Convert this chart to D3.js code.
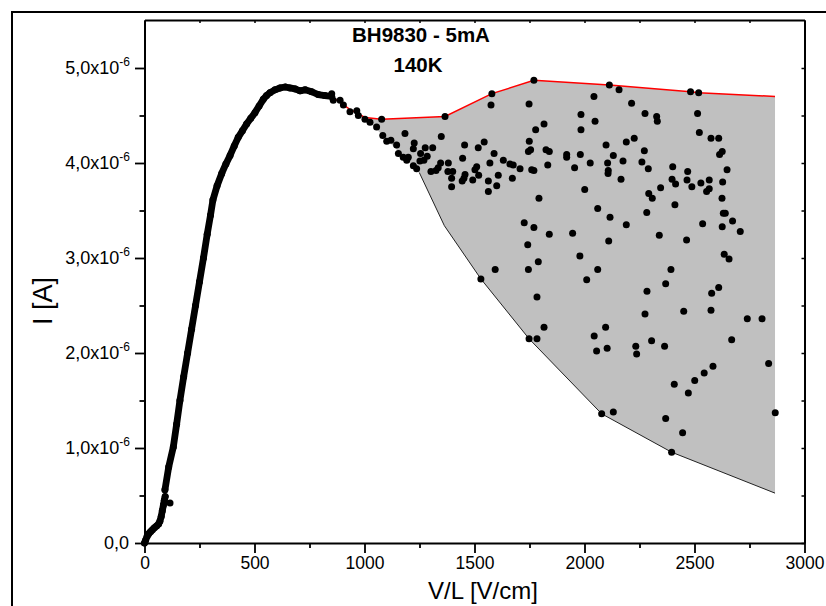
<!DOCTYPE html>
<html><head><meta charset="utf-8">
<script src="https://cdn.jsdelivr.net/npm/d3@7"></script>
<style>body{margin:0;background:#fff}svg{display:block;font-family:"Liberation Sans",Arial,sans-serif}</style>
</head><body><svg id="c" width="826" height="606"></svg>
<script>
// ---- data (I in units of 1e-6 A) ----
const xTicks = [0, 500, 1000, 1500, 2000, 2500, 3000];
const xMinor = [250, 750, 1250, 1750, 2250, 2750];
const yTicks = [0, 1, 2, 3, 4, 5];
const yMinor = [0.5, 1.5, 2.5, 3.5, 4.5];
const yTickLabels = ["0,0", "1,0x10", "2,0x10", "3,0x10", "4,0x10", "5,0x10"];
const titleLines = ["BH9830 - 5mA", "140K"];
const xTitle = "V/L [V/cm]";
const yTitle = "I [A]";

// dense part of the I-V curve
const curveV = [0,5,12,20,28,36,45,55,64,70,76,81,86,90,94,
  93,110,131,146,161,178,196,214,232,250,268,285,300,311,330,351,370,389,408,426,445,464,483,502,521,540,555,570,593,616,640,661,685,707,730,760,790,820,851];
const curveI = [0,0.03,0.07,0.10,0.12,0.14,0.16,0.18,0.20,0.23,0.28,0.34,0.40,0.45,0.49,
  0.56,0.80,1.01,1.25,1.50,1.75,2.00,2.25,2.50,2.75,3.00,3.25,3.45,3.61,3.76,3.89,3.99,4.08,4.18,4.27,4.34,4.41,4.47,4.53,4.60,4.67,4.71,4.74,4.77,4.79,4.80,4.79,4.78,4.76,4.77,4.75,4.72,4.71,4.70];

// scattered points [V/cm, I]
const scatterPts = [[116,0.42],
[851,4.73],[858,4.66],[889,4.66],[904,4.61],[934,4.54],[965,4.55],[972,4.50],[1002,4.46],[1025,4.43],[1055,4.38],[1078,4.46],
[1083,4.29],[1101,4.23],[1120,4.24],[1146,4.19],[1184,4.31],[1154,4.10],[1176,4.06],[1192,4.03],[1199,4.06],[1222,4.15],[1226,4.21],[1222,3.97],[1237,3.94],[1255,4.10],[1285,4.07],[1270,4.03],[1252,4.02],[1310,4.16],[1276,4.16],[1349,4.28],[1346,4.00],[1335,3.95],[1325,3.92],[1302,3.91],[1366,4.49],[1381,4.00],[1379,3.91],[1401,3.91],[1396,3.84],[1396,3.75],[1444,3.81],[1457,3.88],[1452,3.84],[1446,4.05],[1455,4.19],[1492,3.82],[1510,3.96],[1502,3.93],[1519,3.87],[1517,4.16],[1544,4.22],[1563,3.81],[1563,3.70],[1570,4.00],[1589,4.10],[1579,4.73],[1575,4.61],[1601,3.76],[1608,3.87],[1631,4.03],[1661,3.99],[1676,3.98],[1672,3.84],[1707,3.94],[1748,4.62],[1770,4.87],[1778,4.35],[1816,4.41],[1749,4.23],[1745,4.12],[1755,4.14],[1825,4.14],[1840,4.12],[1833,3.98],[1760,3.93],[1770,3.92],[1793,3.63],[1726,3.37],[1770,3.32],[1840,3.25],[1742,3.14],[1790,2.96],[1745,2.88],[1594,2.88],[1529,2.78],[1784,2.59],[1748,2.15],[1784,2.15],[1816,2.27],
[1919,4.09],[1919,4.06],[1981,4.09],[1955,3.95],[2026,4.00],[2001,3.72],[1946,3.26],[1979,3.02],[2010,2.77],[1984,4.51],[2048,4.44],[1984,4.35],[2043,4.70],[2113,4.82],[2157,4.77],[2214,4.63],[2098,4.19],[2131,4.08],[2105,4.00],[2108,3.92],[2107,3.89],[2166,3.83],[2190,4.22],[2226,4.26],[2175,4.02],[2060,3.52],[2116,3.43],[2190,3.35],[2110,3.18],[2060,2.88],[2275,4.52],[2328,4.49],[2331,4.44],[2514,4.52],[2522,4.32],[2575,4.26],[2610,4.26],[2626,4.12],[2614,4.09],[2648,3.93],[2628,3.80],[2625,3.63],[2261,4.01],[2290,3.94],[2272,4.13],[2292,3.68],[2308,3.63],[2346,3.74],[2401,3.96],[2398,3.83],[2414,3.78],[2469,3.91],[2466,3.82],[2488,3.75],[2529,3.79],[2567,3.82],[2567,3.73],[2555,3.70],[2482,4.75],[2519,4.74],[2411,3.56],[2283,3.48],[2340,3.24],[2464,3.19],[2537,3.36],[2626,3.33],[2640,3.47],[2631,3.47],[2673,3.39],[2708,3.28],[2635,3.04],[2657,2.99],[2393,2.88],[2369,2.73],[2284,2.65],[2578,2.63],[2610,2.69],[2275,2.41],[2451,2.44],[2575,2.45],[2740,2.36],[2807,2.36],[2096,2.27],[2044,2.18],[2055,2.02],[2103,2.05],[2233,2.07],[2237,1.99],[2305,2.13],[2364,2.07],[2669,2.14],[2837,1.89],[2584,1.86],[2544,1.79],[2501,1.71],[2408,1.67],[2472,1.58],[2078,1.36],[2131,1.38],[2369,1.31],[2446,1.16],[2396,0.956],[2867,1.37]];

// envelopes
const upperV = [851, 930, 1002, 1078, 1366, 1579, 1770, 2113, 2482, 2519, 2866];
const upperI = [4.70, 4.57, 4.48, 4.46, 4.49, 4.73, 4.87, 4.82, 4.75, 4.74, 4.70];
const lowerV = [1249, 1363, 1529, 1748, 2078, 2396, 2866];
const lowerI = [3.90, 3.34, 2.78, 2.15, 1.36, 0.956, 0.525];

// ---- drawing ----
const svg = d3.select("#c");
const L = 144.5, R = 804.5, T = 20, B = 543;
const x = d3.scaleLinear().domain([0, 3000]).range([L, R]);
const y = d3.scaleLinear().domain([0, 5.5]).range([B, T + 0.5]);

// outer frame
svg.append("rect").attr("x", 12).attr("y", 12).attr("width", 900).attr("height", 700)
  .attr("fill", "none").attr("stroke", "#000").attr("stroke-width", 2);

// fill region
const upperPts = upperV.map((v, i) => [x(v), y(upperI[i])]);
const lowerPts = lowerV.map((v, i) => [x(v), y(lowerI[i])]);
const poly = upperPts.slice(2).concat(lowerPts.slice().reverse());
svg.append("path").attr("d", d3.line()(poly) + "Z").attr("fill", "#c0c0c0").attr("stroke", "none");

svg.append("path").attr("d", d3.line()(lowerPts)).attr("fill", "none").attr("stroke", "#222").attr("stroke-width", 1);
svg.append("path").attr("d", d3.line()(upperPts)).attr("fill", "none").attr("stroke", "#ff0000").attr("stroke-width", 1.5);

// dense curve
const cPts = curveV.map((v, i) => [x(v), y(curveI[i])]);
svg.append("path").attr("d", d3.line()(cPts.slice(0, 15))).attr("fill", "none").attr("stroke", "#000")
  .attr("stroke-width", 6.8).attr("stroke-linecap", "round").attr("stroke-linejoin", "round");
svg.append("path").attr("d", d3.line()(cPts.slice(15))).attr("fill", "none").attr("stroke", "#000")
  .attr("stroke-width", 6.8).attr("stroke-linecap", "round").attr("stroke-linejoin", "round");
svg.append("g").selectAll("circle").data(cPts).join("circle")
  .attr("cx", d => d[0]).attr("cy", d => d[1]).attr("r", 3.5).attr("fill", "#000");

svg.append("g").selectAll("circle").data(scatterPts).join("circle")
  .attr("cx", d => x(d[0])).attr("cy", d => y(d[1])).attr("r", 3.5).attr("fill", "#000");

// axes
function styleAxis(g, sw) {
  g.select(".domain").attr("stroke-width", 2);
  g.selectAll(".tick line").attr("stroke-width", sw);
}
const gxB = svg.append("g").attr("transform", `translate(0,${B})`)
  .call(d3.axisBottom(x).tickValues(xTicks).tickSize(10).tickSizeOuter(0).tickPadding(4).tickFormat(d3.format("d")));
styleAxis(gxB, 1.8);
gxB.selectAll("text").attr("font-size", 17.5).attr("font-family", '"Liberation Sans",Arial,sans-serif').attr("fill", "#000");
const gxBm = svg.append("g").attr("transform", `translate(0,${B})`)
  .call(d3.axisBottom(x).tickValues(xMinor).tickSize(5).tickSizeOuter(0).tickFormat(""));
gxBm.select(".domain").remove(); gxBm.selectAll(".tick line").attr("stroke-width", 1.8);

const gxT = svg.append("g").attr("transform", `translate(0,${T})`)
  .call(d3.axisTop(x).tickValues(xTicks.concat(xMinor)).tickSize(-3).tickSizeOuter(0).tickFormat(""));
styleAxis(gxT, 1.5);

const gyL = svg.append("g").attr("transform", `translate(${L},0)`)
  .call(d3.axisLeft(y).tickValues(yTicks).tickSize(9.5).tickSizeOuter(0).tickFormat(""));
styleAxis(gyL, 1.8);
const gyLm = svg.append("g").attr("transform", `translate(${L},0)`)
  .call(d3.axisLeft(y).tickValues(yMinor).tickSize(5).tickSizeOuter(0).tickFormat(""));
gyLm.select(".domain").remove(); gyLm.selectAll(".tick line").attr("stroke-width", 1.8);

const gyR = svg.append("g").attr("transform", `translate(${R},0)`)
  .call(d3.axisRight(y).tickValues(yTicks.concat(yMinor)).tickSize(-3).tickSizeOuter(0).tickFormat(""));
styleAxis(gyR, 1.5);

// y tick labels with superscript
const yl = svg.append("g");
yTicks.forEach((t, i) => {
  const tx = yl.append("text").attr("x", 130).attr("y", y(t) + 6).attr("text-anchor", "end")
    .attr("font-size", 18).attr("fill", "#000");
  if (i === 0) {
    tx.attr("x", 129).text(yTickLabels[i]);
  } else {
    tx.append("tspan").text(yTickLabels[i]);
    tx.append("tspan").attr("font-size", 12).attr("dy", -8).text("-6");
  }
});

// titles
svg.append("text").attr("x", 421).attr("y", 41.5).attr("text-anchor", "middle")
  .attr("font-size", 20.5).attr("font-weight", "bold").text(titleLines[0]);
svg.append("text").attr("x", 418).attr("y", 71.5).attr("text-anchor", "middle")
  .attr("font-size", 20.5).attr("font-weight", "bold").text(titleLines[1]);
svg.append("text").attr("x", 483).attr("y", 599).attr("text-anchor", "middle")
  .attr("font-size", 24).text(xTitle);
svg.append("text").attr("transform", "translate(52,301) rotate(-90)").attr("text-anchor", "middle")
  .attr("font-size", 27).text(yTitle);
</script></body></html>
